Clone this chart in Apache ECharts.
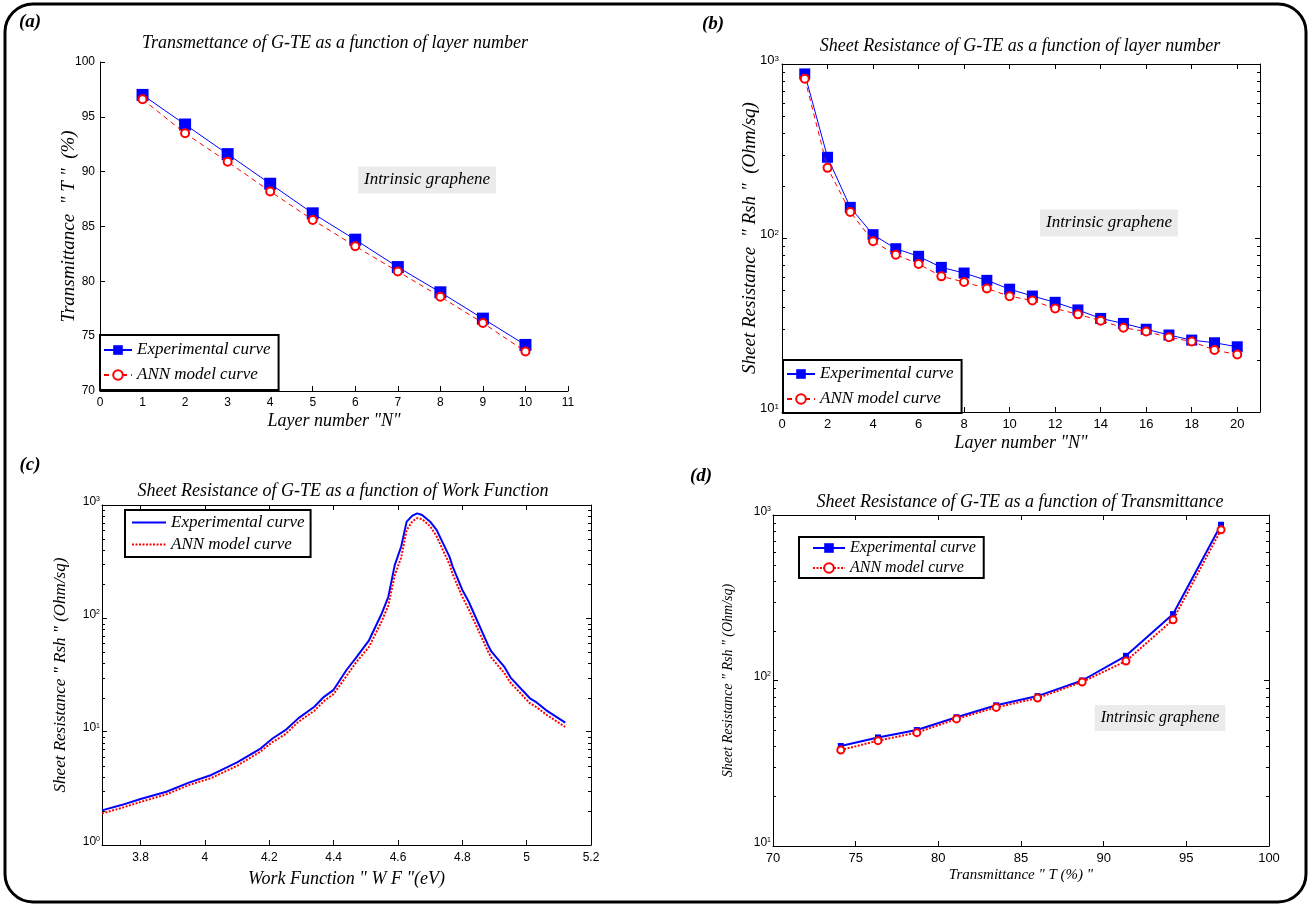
<!DOCTYPE html>
<html><head><meta charset="utf-8">
<script src="https://cdn.jsdelivr.net/npm/echarts@6/dist/echarts.min.js"></script>
<style>html,body{margin:0;padding:0;background:#fff}#c{width:1313px;height:907px}</style>
</head><body><div id="c"></div>
<script>
// ---------- Panel (a): Transmittance vs layer number ----------
const layersA = [1,2,3,4,5,6,7,8,9,10];
const transExpA = [97.0,94.3,91.6,88.9,86.2,83.8,81.3,79.0,76.6,74.2];
const transAnnA = [96.6,93.5,90.9,88.2,85.6,83.2,80.9,78.6,76.2,73.6];
// ---------- Panel (b): Sheet resistance vs layer number ----------
const layersB = [1,2,3,4,5,6,7,8,9,10,11,12,13,14,15,16,17,18,19,20];
const rshExpB = [877,291,150,104.5,86.8,78.5,67.8,62.9,57.1,50.8,46.4,42.7,38.6,34.5,32.3,29.9,27.7,25.9,25.0,23.7];
const rshAnnB = [824,253,141,95.7,80.2,70.9,60.2,55.9,51.2,46.3,43.7,39.4,36.4,33.5,30.5,29.0,26.9,25.4,22.7,21.4];
// ---------- Panel (c): Sheet resistance vs work function ----------
const wfC = [3.68,3.74,3.80,3.88,3.95,4.02,4.10,4.17,4.21,4.25,4.29,4.34,4.37,4.40,4.44,4.47,4.51,4.55,4.57,4.59,4.61,4.627,4.645,4.66,4.675,4.70,4.72,4.76,4.77,4.80,4.82,4.85,4.88,4.89,4.93,4.95,5.01,5.03,5.06,5.12];
const rshExpC = [2.02,2.25,2.55,2.95,3.55,4.15,5.35,7.0,8.7,10.3,13.1,16.6,20.3,23.4,35,45,64,111,155,295,430,713,805,843,815,713,603,350,286,178,140,90,58,51,37.5,30,19.7,18.2,15.5,12];
const rshAnnC = [1.90,2.12,2.40,2.80,3.38,3.90,5.0,6.6,8.1,9.5,12.2,15.3,18.6,21.5,31,41,56,95,130,240,345,600,720,765,750,650,530,300,245,155,120,78,51,45,33,27,17.8,16.5,14.2,11];
// ---------- Panel (d): Sheet resistance vs transmittance ----------
const transD = [74.1,76.35,78.7,81.1,83.5,86.0,88.7,91.35,94.2,97.1];
const rshExpD = [40.2,45.3,50.2,60,70.8,80.5,100,141,252,873];
const rshAnnD = [38,43.3,48.4,58.6,68.8,78.3,98,131,233,815];

const titles = [
  'Transmettance of G-TE as a function of layer number',
  'Sheet Resistance of G-TE as a function of layer number',
  'Sheet Resistance of G-TE as a function of Work Function',
  'Sheet Resistance of G-TE as a function of Transmittance'
];
const panelLetters = ['(a)','(b)','(c)','(d)'];
const annotationText = 'Intrinsic graphene';
const seriesNames = ['Experimental curve','ANN model curve'];

const SERIF = '"Liberation Serif", "Times New Roman", serif';
const SANS = '"Liberation Sans", Arial, sans-serif';
const BLUE = '#0000ff', RED = '#ff0000';

function pairs(xs, ys){ return xs.map((x,i)=>[x, ys[i]]); }
function supLabel(v){ const e = Math.round(Math.log10(v)); return '{b|10}{s|' + e + '}'; }
function supRich(fs){ return { b:{fontFamily:SANS,fontSize:fs,color:'#000',lineHeight:12,verticalAlign:'bottom',padding:[7,0,0,0]},
                               s:{fontFamily:SANS,fontSize:Math.round(fs*0.62),color:'#000',lineHeight:12,verticalAlign:'top'} }; }

const grids = [
  {left:100, top:62, width:468, height:329},
  {left:782, top:64, width:478, height:348},
  {left:102, top:505, width:489, height:340},
  {left:773, top:515, width:496, height:331}
];

const line = {show:true, onZero:false, lineStyle:{color:'#000', width:1}};
const tickIn = {show:true, inside:true, length:5, lineStyle:{color:'#000', width:1}};
const noSplit = {show:false};
function nameStyle(fs){ return {fontFamily:SERIF, fontStyle:'italic', fontSize:fs, color:'#000'}; }
function lab(fs, extra){ return Object.assign({fontFamily:SANS, fontSize:fs, color:'#000', margin:5}, extra||{}); }

const xAxes = [
  {gridIndex:0, type:'value', min:0, max:11, interval:1, position:'bottom', axisLine:line, axisTick:tickIn, splitLine:noSplit,
   axisLabel:lab(12,{margin:6}), name:'Layer number "N"', nameLocation:'middle', nameGap:21, nameMoveOverlap:false, nameTextStyle:nameStyle(18)},
  {gridIndex:1, type:'value', min:0, max:21, interval:2, position:'bottom', axisLine:line, axisTick:tickIn, splitLine:noSplit,
   axisLabel:lab(13,{margin:6, showMaxLabel:false}), name:'Layer number "N"', nameLocation:'middle', nameGap:22, nameMoveOverlap:false, nameTextStyle:nameStyle(18)},
  {gridIndex:1, type:'value', min:0, max:21, interval:2, position:'top', axisLine:line, axisTick:tickIn, splitLine:noSplit, axisLabel:{show:false}},
  {gridIndex:2, type:'value', min:3.68, max:5.2, minInterval:0.2, maxInterval:0.2, position:'bottom', axisLine:line, axisTick:tickIn, splitLine:noSplit,
   axisLabel:lab(12,{margin:7, showMinLabel:false}), name:'Work Function " W F "(eV)', nameLocation:'middle', nameGap:25, nameMoveOverlap:false, nameTextStyle:nameStyle(18)},
  {gridIndex:2, type:'value', min:3.68, max:5.2, minInterval:0.2, maxInterval:0.2, position:'top', axisLine:line, axisTick:tickIn, splitLine:noSplit, axisLabel:{show:false}},
  {gridIndex:3, type:'value', min:70, max:100, interval:5, position:'bottom', axisLine:line, axisTick:tickIn, splitLine:noSplit,
   axisLabel:lab(13,{margin:6}), name:'Transmittance " T (%) "', nameLocation:'middle', nameGap:22, nameMoveOverlap:false, nameTextStyle:nameStyle(15)},
  {gridIndex:3, type:'value', min:70, max:100, interval:5, position:'top', axisLine:line, axisTick:tickIn, splitLine:noSplit, axisLabel:{show:false}}
];

function logLab(fs, margin){ return {formatter:supLabel, rich:supRich(fs), margin:margin, padding:[0,0,7,0]}; }

const yAxes = [
  {gridIndex:0, type:'value', min:70, max:100, interval:5, position:'left', axisLine:line, axisTick:tickIn, splitLine:noSplit,
   axisLabel:lab(12,{margin:5}), name:'Transmittance  " T "  (%)', nameLocation:'middle', nameGap:22, nameMoveOverlap:false, nameTextStyle:nameStyle(19)},
  {gridIndex:1, type:'log', logBase:10, min:10, max:1000, position:'left', axisLine:line, axisTick:tickIn, splitLine:noSplit,
   axisLabel:logLab(13,3), name:'Sheet Resistance  " Rsh "  (Ohm/sq)', nameLocation:'middle', nameGap:23, nameMoveOverlap:false, nameTextStyle:nameStyle(19)},
  {gridIndex:1, type:'log', logBase:10, min:10, max:1000, position:'right', axisLine:line, axisTick:tickIn, splitLine:noSplit, axisLabel:{show:false}},
  {gridIndex:2, type:'log', logBase:10, min:1, max:1000, position:'left', axisLine:line, axisTick:tickIn, splitLine:noSplit,
   axisLabel:logLab(12,2), name:'Sheet Resistance " Rsh " (Ohm/sq)', nameLocation:'middle', nameGap:33, nameMoveOverlap:false, nameTextStyle:nameStyle(17)},
  {gridIndex:2, type:'log', logBase:10, min:1, max:1000, position:'right', axisLine:line, axisTick:tickIn, splitLine:noSplit, axisLabel:{show:false}},
  {gridIndex:3, type:'log', logBase:10, min:10, max:1000, position:'left', axisLine:line, axisTick:tickIn, splitLine:noSplit,
   axisLabel:logLab(12,2), name:'Sheet Resistance " Rsh " (Ohm/sq)', nameLocation:'middle', nameGap:38, nameMoveOverlap:false, nameTextStyle:nameStyle(14)},
  {gridIndex:3, type:'log', logBase:10, min:10, max:1000, position:'right', axisLine:line, axisTick:tickIn, splitLine:noSplit, axisLabel:{show:false}}
];

function nm(i, p){ return seriesNames[i] + '|' + p; }

const series = [
  {name:nm(0,'a'), type:'line', xAxisIndex:0, yAxisIndex:0, data:pairs(layersA, transExpA), symbol:'rect', symbolSize:12,
   lineStyle:{color:BLUE, width:1}, itemStyle:{color:BLUE}, z:3},
  {name:nm(1,'a'), type:'line', xAxisIndex:0, yAxisIndex:0, data:pairs(layersA, transAnnA), symbol:'emptyCircle', symbolSize:8,
   lineStyle:{color:RED, width:1, type:[5,4]}, itemStyle:{color:RED, borderColor:RED, borderWidth:2}, z:4},
  {name:nm(0,'b'), type:'line', xAxisIndex:1, yAxisIndex:1, data:pairs(layersB, rshExpB), symbol:'rect', symbolSize:11,
   lineStyle:{color:BLUE, width:1}, itemStyle:{color:BLUE}, z:3},
  {name:nm(1,'b'), type:'line', xAxisIndex:1, yAxisIndex:1, data:pairs(layersB, rshAnnB), symbol:'emptyCircle', symbolSize:8,
   lineStyle:{color:RED, width:1, type:[5,4]}, itemStyle:{color:RED, borderColor:RED, borderWidth:2}, z:4},
  {name:nm(0,'c'), type:'line', xAxisIndex:3, yAxisIndex:3, data:pairs(wfC, rshExpC), symbol:'none',
   lineStyle:{color:BLUE, width:2}, itemStyle:{color:BLUE}, z:3},
  {name:nm(1,'c'), type:'line', xAxisIndex:3, yAxisIndex:3, data:pairs(wfC, rshAnnC), symbol:'none',
   lineStyle:{color:RED, width:2, type:[2,1.5]}, itemStyle:{color:RED}, z:4},
  {name:nm(0,'d'), type:'line', xAxisIndex:5, yAxisIndex:5, data:pairs(transD, rshExpD), symbol:'rect', symbolSize:6,
   lineStyle:{color:BLUE, width:2}, itemStyle:{color:BLUE}, z:3},
  {name:nm(1,'d'), type:'line', xAxisIndex:5, yAxisIndex:5, data:pairs(transD, rshAnnD), symbol:'emptyCircle', symbolSize:7,
   lineStyle:{color:RED, width:2, type:[2,1.5]}, itemStyle:{color:RED, borderColor:RED, borderWidth:2}, z:4}
];
series.forEach(s => { s.animation = false; s.silent = true; });

function legend(p, left, top, fs, lh, gap, iw, pad, extra){
  return Object.assign({data:[nm(0,p), nm(1,p)], orient:'vertical', left:left, top:top, selectedMode:false,
    formatter: n => n.split('|')[0], itemWidth:iw, itemHeight:12, itemGap:gap, padding:pad,
    borderColor:'#000', borderWidth:2, backgroundColor:'#fff', borderRadius:0, z:10,
    textStyle:{fontFamily:SERIF, fontStyle:'italic', fontSize:fs, color:'#000', lineHeight:lh}}, extra || {});
}
const legends = [
  legend('a', 100, 335, 17, 20, 5, 28, [5,8,5,3]),
  legend('b', 783, 360, 17, 20, 5, 28, [4,8,4,3]),
  legend('c', 125, 510, 17, 19, 3, 34, [3,6,3,6], {itemStyle:{opacity:0}}),
  legend('d', 799, 537, 16, 18, 2, 32, [2,8,1,13])
];

const option = {
  animation:false,
  backgroundColor:'#fff',
  grid: grids.map(g => Object.assign({show:false, containLabel:false}, g)),
  xAxis: xAxes, yAxis: yAxes, series: series, legend: legends
};

const chart = echarts.init(document.getElementById('c'), null, {renderer:'canvas'});
chart.setOption(option);

// ---------- decorations: frame, titles, labels, annotations, log minor ticks ----------
const g = [];
g.push({type:'rect', shape:{x:5, y:4, width:1301, height:898, r:28}, style:{fill:null, stroke:'#000', lineWidth:3}, silent:true, z:0});
const letterPos = [[30,22],[713,24],[30,465],[701,476]];
panelLetters.forEach((t,i) => g.push({type:'text', x:letterPos[i][0], y:letterPos[i][1], silent:true,
  style:{text:t, font:'italic bold 19px ' + SERIF, fill:'#000', align:'center', verticalAlign:'middle'}}));
const titlePos = [[335,43],[1020,46],[343,491],[1020,502]];
titles.forEach((t,i) => g.push({type:'text', x:titlePos[i][0], y:titlePos[i][1], silent:true,
  style:{text:t, font:'italic 18px ' + SERIF, fill:'#000', align:'center', verticalAlign:'middle'}}));
const annPos = [[427,180,17],[1109,223,17],[1160,718,16]];
annPos.forEach(p => g.push({type:'text', x:p[0], y:p[1], silent:true, z:5,
  style:{text:annotationText, font:'italic ' + p[2] + 'px ' + SERIF, fill:'#000', align:'center', verticalAlign:'middle',
         backgroundColor:'#ebebeb', padding:[5,6,5,6]}}));

function minorTicks(yIdx, grid, e0, e1){
  const xl = grid.left, xr = grid.left + grid.width;
  for (let e = e0; e < e1; e++) {
    for (let k = 2; k <= 9; k++) {
      const v = k * Math.pow(10, e);
      const y = Math.round(chart.convertToPixel({yAxisIndex:yIdx}, v)) + 0.5;
      g.push({type:'line', silent:true, shape:{x1:xl, y1:y, x2:xl+3, y2:y}, style:{stroke:'#000', lineWidth:1}});
      g.push({type:'line', silent:true, shape:{x1:xr, y1:y, x2:xr-3, y2:y}, style:{stroke:'#000', lineWidth:1}});
    }
  }
}
minorTicks(1, grids[1], 1, 3);
minorTicks(3, grids[2], 0, 3);
minorTicks(5, grids[3], 1, 3);

chart.setOption({graphic: g});
</script>
</body></html>
